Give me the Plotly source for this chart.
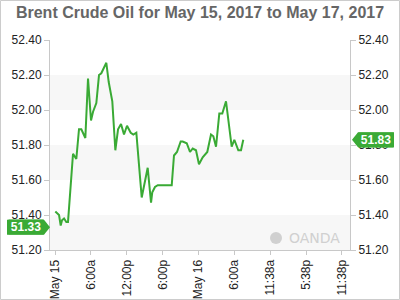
import plotly.graph_objects as go

# Data: hours since May 15 00:00, Brent price
hours = [0.05, 0.67, 0.95, 1.17, 1.51, 1.89, 2.17, 2.56, 3.01, 3.56, 4.01, 4.40, 4.68, 5.07,
         5.52, 6.02, 6.36, 6.91, 7.36, 7.74, 8.58, 8.98, 9.58, 10.09, 10.54, 11.04, 11.54,
         12.04, 12.66, 13.10, 13.60, 14.50, 15.50, 16.06, 16.27, 16.72, 17.18, 17.56, 19.52,
         19.90, 20.40, 21.02, 21.36, 22.03, 22.58, 23.03, 23.58, 24.08, 24.70, 25.47, 26.09,
         26.48, 26.93, 27.48, 27.98, 28.60, 29.55, 29.99, 30.66, 31.11, 31.49]
prices = [51.42, 51.40, 51.34, 51.37, 51.38, 51.36, 51.36, 51.54, 51.75, 51.72, 51.89, 51.89,
          51.87, 51.84, 52.18, 51.94, 51.99, 52.04, 52.20, 52.21, 52.27, 52.16, 52.05, 51.77,
          51.89, 51.92, 51.86, 51.91, 51.87, 51.86, 51.87, 51.50, 51.67, 51.47, 51.53, 51.56,
          51.57, 51.57, 51.57, 51.74, 51.76, 51.82, 51.82, 51.81, 51.76, 51.78, 51.77, 51.69,
          51.73, 51.76, 51.86, 51.85, 51.79, 51.98, 51.98, 52.05, 51.79, 51.83, 51.77, 51.77,
          51.83]
tick_hours = [0, 6, 12, 18, 24, 30, 36, 42, 48]
tick_labels = ["May 15", "6:00a", "12:00p", "6:00p", "May 16", "6:00a", "11:38a", "5:38p", "11:38p"]
y_ticks = [51.20, 51.40, 51.60, 51.80, 52.00, 52.20, 52.40]
band_ranges = [(51.20, 51.40), (51.60, 51.80), (52.00, 52.20)]
left_tag_value = 51.33
right_tag_value = 51.83

GREEN = "#3aaa35"
YMIN, YMAX = 51.20, 52.40
XMIN, XMAX = -0.84, 49.34
W, H = 400, 300
ML, MR, MT, MB = 50, 50, 40, 50
PW, PH = W - ML - MR, H - MT - MB

fig = go.Figure()
fig.add_trace(go.Scatter(x=hours, y=prices, mode="lines",
                         line=dict(color=GREEN, width=2), hoverinfo="skip"))
fig.add_trace(go.Scatter(x=hours, y=prices, mode="lines", yaxis="y2",
                         line=dict(color="rgba(0,0,0,0)", width=0), hoverinfo="skip"))

shapes = []
for lo, hi in band_ranges:
    shapes.append(dict(type="rect", xref="paper", yref="y", x0=0, x1=1, y0=lo, y1=hi,
                       fillcolor="#f7f7f7", line=dict(width=0), layer="below"))

def frac(v):
    return (v - YMIN) / (YMAX - YMIN)

th = 7.5 / PH  # half tag height in paper units
# left tag
fy = frac(left_tag_value)
lx0, lx1, ltip = (7 - ML) / PW, (44 - ML) / PW, 0.0
shapes.append(dict(type="path", xref="paper", yref="paper", layer="above",
                   path=f"M {lx0},{fy-th} L {lx1},{fy-th} L {ltip},{fy} L {lx1},{fy+th} L {lx0},{fy+th} Z",
                   fillcolor=GREEN, line=dict(width=0)))
# right tag
fy2 = frac(right_tag_value)
rtip, rx0, rx1 = (352 - ML) / PW, (358 - ML) / PW, (394 - ML) / PW
shapes.append(dict(type="path", xref="paper", yref="paper", layer="above",
                   path=f"M {rtip},{fy2} L {rx0},{fy2-th} L {rx1},{fy2-th} L {rx1},{fy2+th} L {rx0},{fy2+th} Z",
                   fillcolor=GREEN, line=dict(width=0)))
# outer border
shapes.append(dict(type="rect", xref="paper", yref="paper",
                   x0=(0.5 - ML) / PW, x1=(W - 0.5 - ML) / PW,
                   y0=-(MB - 0.5) / PH, y1=(PH + MT - 0.5) / PH,
                   line=dict(color="#cccccc", width=1), fillcolor="rgba(0,0,0,0)"))
# OANDA logo circle
shapes.append(dict(type="circle", xref="paper", yref="paper", layer="below",
                   x0=(270 - ML) / PW, x1=(282 - ML) / PW,
                   y0=(250 - 244) / PH, y1=(250 - 232) / PH,
                   fillcolor="#d0d0d0", line=dict(width=0)))

tag_font = dict(family="Liberation Sans, Arial", size=12, color="white")
annotations = [
    dict(xref="paper", yref="paper", x=(lx0 + lx1) / 2, y=fy, text=f"<b>{left_tag_value:.2f}</b>",
         xanchor="center", yanchor="middle", showarrow=False, bgcolor=GREEN,
         width=34, height=14, borderpad=0, font=tag_font),
    dict(xref="paper", yref="paper", x=(rx0 + rx1) / 2, y=fy2, text=f"<b>{right_tag_value:.2f}</b>",
         xanchor="center", yanchor="middle", showarrow=False, bgcolor=GREEN,
         width=34, height=14, borderpad=0, font=tag_font),
    dict(xref="paper", yref="paper", x=(314 - ML) / PW, y=(250 - 238) / PH, text="OANDA",
         xanchor="center", yanchor="middle", showarrow=False,
         font=dict(family="DejaVu Sans, Liberation Sans", size=14, color="#d0d0d0")),
]

axis_font = dict(family="Liberation Sans, Arial", size=12, color="#222222")
fig.update_layout(
    width=W, height=H,
    margin=dict(l=ML, r=MR, t=MT, b=MB, pad=0, autoexpand=False),
    paper_bgcolor="white", plot_bgcolor="white",
    showlegend=False,
    title=dict(text="<b>Brent Crude Oil for May 15, 2017 to May 17, 2017</b>",
               x=0.5, xanchor="center", y=1 - 12 / H, yanchor="middle",
               font=dict(family="Liberation Sans, Arial", size=16, color="#666666")),
    xaxis=dict(range=[XMIN, XMAX], tickvals=tick_hours, ticktext=tick_labels, tickangle=-90,
               automargin=False,
               showgrid=False, zeroline=False, showline=True, linecolor="#c8c8c8", linewidth=1,
               ticks="outside", ticklen=4, tickcolor="#c8c8c8", tickfont=axis_font),
    yaxis=dict(range=[YMIN, YMAX], tickvals=y_ticks, ticktext=[f"{v:.2f}" for v in y_ticks],
               automargin=False,
               showgrid=False, zeroline=False, showline=True, linecolor="#c8c8c8", linewidth=1,
               ticks="outside", ticklen=5, tickcolor="#c8c8c8", tickfont=axis_font),
    yaxis2=dict(range=[YMIN, YMAX], overlaying="y", side="right", tickvals=y_ticks,
                ticktext=[f"{v:.2f}" for v in y_ticks], automargin=False,
                showgrid=False, zeroline=False, showline=True, linecolor="#c8c8c8", linewidth=1,
                ticks="outside", ticklen=5, tickcolor="#c8c8c8", tickfont=axis_font),
    shapes=shapes, annotations=annotations,
)

fig.write_html("out.html")
